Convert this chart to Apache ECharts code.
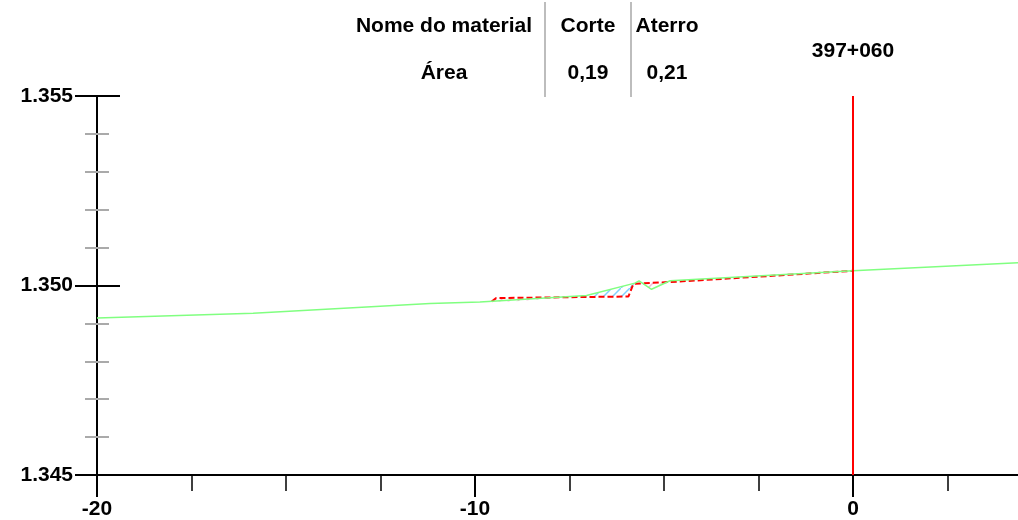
<!DOCTYPE html>
<html>
<head>
<meta charset="utf-8">
<title>Seção 397+060</title>
<script src="https://cdn.jsdelivr.net/npm/echarts@6/dist/echarts.min.js"></script>
<style>
  html, body { margin: 0; padding: 0; background: #fff; }
  #chart { width: 1018px; height: 520px; }
</style>
</head>
<body>
<div id="chart"></div>
<script>
// terreno natural (verde)
var groundX = [-20, -15.87, -11.19, -9.87, -7.05, -5.77, -5.66, -5.33, -4.84, 0, 4.365];
var groundY = [1.34914, 1.34927, 1.349525, 1.349562, 1.349736, 1.350063, 1.350124, 1.3499, 1.350124, 1.350388, 1.3506];
// greide / plataforma (vermelho tracejado)
var designX = [-9.56, -9.44, -5.94, -5.81, -4.58, 0];
var designY = [1.349578, 1.349668, 1.34971, 1.350045, 1.350106, 1.350388];
// areas de corte e aterro
var cutX = [-7.3, -7.05, -5.79, -5.94];
var cutY = [1.34971, 1.349736, 1.350052, 1.34971];
var fillX = [-9.56, -9.44, -7.3, -9.0];
var fillY = [1.349578, 1.349668, 1.34971, 1.349575];
var fill2X = [-5.6, -5.0, -5.33];
var fill2Y = [1.35006, 1.35009, 1.3499];
// eixos
var xMajorTicks = [-20, -10, 0];
var xMinorTicks = [-17.5, -15, -12.5, -7.5, -5, -2.5, 2.5];
// estaca
var stationX = 0;
var stationLabel = '397+060';
// tabela
var tableHead = ['Nome do material', 'Corte', 'Aterro'];
var tableRow = ['Área', '0,19', '0,21'];

var FONT = 'Liberation Sans, Arial, sans-serif';

function zip(xs, ys) {
  return xs.map(function (x, i) { return [x, ys[i]]; });
}

// hachura
function hatch(color) {
  var c = document.createElement('canvas');
  c.width = 9; c.height = 9;
  var ctx = c.getContext('2d');
  ctx.strokeStyle = color;
  ctx.lineWidth = 1.5;
  ctx.beginPath();
  ctx.moveTo(-1, 10); ctx.lineTo(10, -1);
  ctx.stroke();
  return { image: c, repeat: 'repeat' };
}

function polySeries(xs, ys, color) {
  return {
    type: 'custom',
    z: 1,
    silent: true,
    data: [0],
    renderItem: function (params, api) {
      var pts = xs.map(function (x, i) { return api.coord([x, ys[i]]); });
      return { type: 'polygon', shape: { points: pts }, style: { fill: hatch(color), stroke: null } };
    }
  };
}

function label(text, x, y) {
  return {
    type: 'text',
    style: { text: text, x: x, y: y, fill: '#000', font: 'bold 21px ' + FONT, textAlign: 'center', textVerticalAlign: 'middle' }
  };
}

var chart = echarts.init(document.getElementById('chart'));

var colX = [444, 588, 667];
var graphics = [];
tableHead.forEach(function (t, i) { graphics.push(label(t, colX[i], 26)); });
tableRow.forEach(function (t, i) { graphics.push(label(t, colX[i], 73)); });
graphics.push({ type: 'line', shape: { x1: 545, y1: 2, x2: 545, y2: 97 }, style: { stroke: '#bdbdbd', lineWidth: 2 } });
graphics.push({ type: 'line', shape: { x1: 631, y1: 2, x2: 631, y2: 97 }, style: { stroke: '#bdbdbd', lineWidth: 2 } });
graphics.push(label(stationLabel, 853, 51));

var xBase = { type: 'value', min: -20, max: 4.365, position: 'bottom', splitLine: { show: false } };
var yBase = { type: 'value', min: 1.345, max: 1.355, position: 'left', splitLine: { show: false } };
var labelFont = { color: '#000', fontWeight: 'bold', fontSize: 21, fontFamily: FONT };

chart.setOption({
  animation: false,
  grid: { left: 97, right: 0, top: 96, bottom: 45, containLabel: false },
  graphic: graphics,
  xAxis: [
    Object.assign({}, xBase, {
      axisLine: { onZero: false, lineStyle: { color: '#000', width: 2 } },
      axisTick: { length: 22, customValues: xMajorTicks, lineStyle: { color: '#000', width: 2 } },
      axisLabel: Object.assign({ margin: 24, customValues: xMajorTicks }, labelFont)
    }),
    Object.assign({}, xBase, {
      axisLine: { show: false, onZero: false },
      axisTick: { length: 16, customValues: xMinorTicks, lineStyle: { color: '#000', width: 1.5 } },
      axisLabel: { show: false }
    })
  ],
  yAxis: [
    Object.assign({}, yBase, {
      interval: 0.001,
      axisLine: { show: false, onZero: false },
      axisTick: { length: 12, lineStyle: { color: '#aaa', width: 2 } },
      axisLabel: { show: false }
    }),
    Object.assign({}, yBase, {
      interval: 0.001,
      axisLine: { show: false, onZero: false },
      axisTick: { inside: true, length: 12, lineStyle: { color: '#aaa', width: 2 } },
      axisLabel: { show: false }
    }),
    Object.assign({}, yBase, {
      interval: 0.005,
      axisLine: { show: false, onZero: false },
      axisTick: { inside: true, length: 23, lineStyle: { color: '#000', width: 2 } },
      axisLabel: { show: false }
    }),
    Object.assign({}, yBase, {
      interval: 0.005,
      axisLine: { onZero: false, lineStyle: { color: '#000', width: 2 } },
      axisTick: { length: 22, lineStyle: { color: '#000', width: 2 } },
      axisLabel: Object.assign({
        margin: 24,
        formatter: function (v) { return v.toFixed(3); }
      }, labelFont)
    })
  ],
  series: [
    polySeries(fillX, fillY, '#f4b6d6'),
    polySeries(fill2X, fill2Y, '#f4b6d6'),
    polySeries(cutX, cutY, '#7fd0ff'),
    {
      type: 'line', z: 3, symbol: 'none', silent: true,
      data: zip(designX, designY),
      lineStyle: { color: '#ff0000', width: 2, type: [6, 3] }
    },
    {
      type: 'line', z: 4, symbol: 'none', silent: true,
      data: zip(groundX, groundY),
      lineStyle: { color: '#80ff80', width: 1.5 }
    },
    {
      type: 'line', z: 5, symbol: 'none', silent: true,
      data: [[stationX, 1.345], [stationX, 1.355]],
      lineStyle: { color: '#ff0000', width: 2 }
    }
  ]
});
</script>
</body>
</html>
